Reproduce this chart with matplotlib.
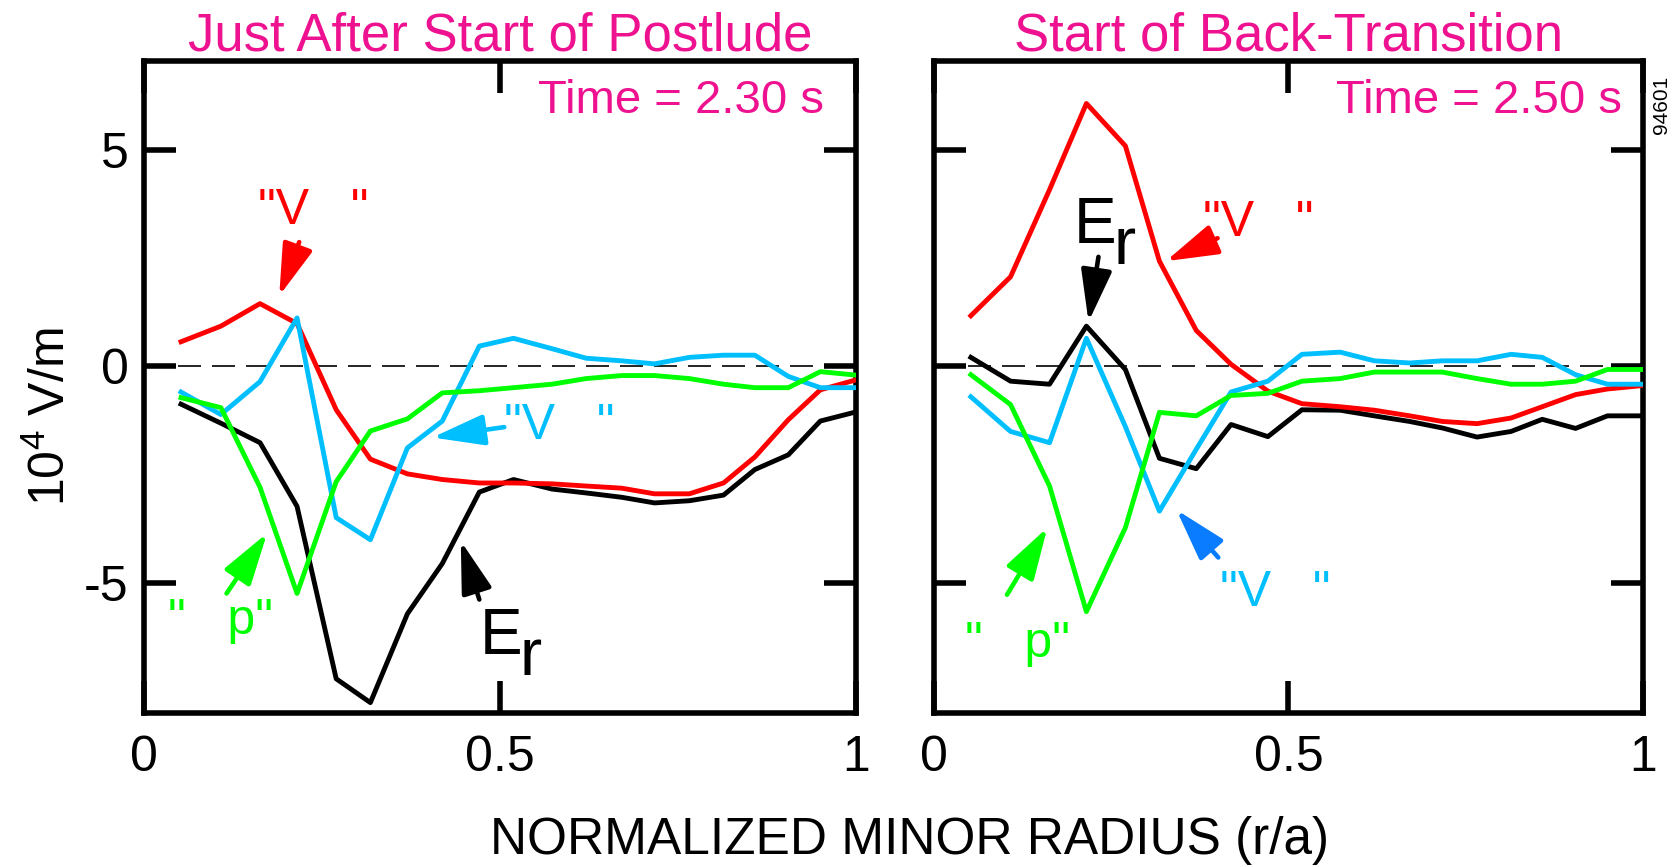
import matplotlib
matplotlib.use('Agg')
import matplotlib.pyplot as plt
import matplotlib.transforms as mtransforms

plt.rcParams['font.family'] = ['Liberation Sans', 'DejaVu Sans']
plt.rcParams['mathtext.default'] = 'regular'
plt.rcParams['axes.unicode_minus'] = False

# normalized minor radius grid (same for both times)
radius = [0.052, 0.108, 0.163, 0.215, 0.270, 0.318, 0.370, 0.419, 0.471, 0.519,
          0.573, 0.621, 0.671, 0.717, 0.766, 0.814, 0.858, 0.905, 0.950, 1.000]

# t = 2.30 s, units of 1e4 V/m
er_230 = [-0.87, -1.31, -1.76, -3.23, -7.21, -7.76, -5.71, -4.55, -2.90, -2.61,
          -2.83, -2.92, -3.02, -3.15, -3.10, -2.97, -2.38, -2.04, -1.26, -1.05]
vpol_230 = [0.57, 0.93, 1.45, 0.99, -1.00, -2.14, -2.48, -2.61, -2.69, -2.69,
            -2.71, -2.76, -2.81, -2.94, -2.94, -2.69, -2.09, -1.23, -0.54, -0.31]
vtor_230 = [-0.59, -1.11, -0.35, 1.12, -3.49, -4.00, -1.88, -1.26, 0.47, 0.65,
            0.41, 0.19, 0.13, 0.06, 0.21, 0.26, 0.26, -0.23, -0.49, -0.49]
gradp_230 = [-0.72, -0.95, -2.79, -5.24, -2.66, -1.49, -1.21, -0.61, -0.56, -0.49,
             -0.41, -0.28, -0.21, -0.21, -0.28, -0.41, -0.49, -0.49, -0.12, -0.20]

# t = 2.50 s
er_250 = [0.21, -0.34, -0.41, 0.93, -0.07, -2.12, -2.36, -1.34, -1.62, -1.00,
          -1.01, -1.14, -1.27, -1.42, -1.63, -1.50, -1.22, -1.43, -1.14, -1.14]
vpol_250 = [1.17, 2.07, 4.08, 6.07, 5.09, 2.43, 0.83, 0.05, -0.57, -0.86,
            -0.93, -1.01, -1.14, -1.27, -1.32, -1.19, -0.93, -0.65, -0.52, -0.44]
vtor_250 = [-0.70, -1.50, -1.76, 0.65, -1.39, -3.34, -1.91, -0.59, -0.34, 0.28,
            0.33, 0.13, 0.08, 0.13, 0.13, 0.28, 0.21, -0.19, -0.41, -0.41]
gradp_250 = [-0.19, -0.88, -2.76, -5.66, -3.72, -1.06, -1.14, -0.67, -0.62, -0.34,
             -0.28, -0.13, -0.13, -0.13, -0.28, -0.41, -0.41, -0.34, -0.07, -0.07]

titles = ['Just After Start of Postlude', 'Start of Back-Transition']
times = ['Time = 2.30 s', 'Time = 2.50 s']
x_ticks = [0, 0.5, 1]
x_ticklabels = ['0', '0.5', '1']
y_ticks = [-5, 0, 5]

MAGENTA = '#EE1290'
RED = '#FF0000'
CYAN = '#00BFFF'
GREEN = '#00FF00'
BLUE = '#0A7CFF'
LW = 3.5
FS = 36

fig = plt.figure(figsize=(16.78, 8.67), dpi=100)
ax1 = fig.add_axes([0.0858, 0.1776, 0.4243, 0.752])
ax2 = fig.add_axes([0.5566, 0.1776, 0.4225, 0.752])


def arrow(ax, tail, tip, color):
    ax.annotate('', xy=tip, xytext=tail,
                arrowprops=dict(arrowstyle='-|>,head_length=3.2,head_width=0.95',
                                mutation_scale=10, lw=3.3, color=color,
                                shrinkA=0, shrinkB=0))


def er_label(ax, x, y):
    ax.text(x, y, 'E', fontsize=46, ha='left', va='baseline')
    tr = mtransforms.offset_copy(ax.transData, fig=fig, x=29, y=-15, units='points')
    ax.text(x, y, 'r', fontsize=48, ha='left', va='baseline', transform=tr)


def setup(ax, title, time_txt, time_x, left_labels):
    ax.axhline(0, color='black', lw=1.2, ls=(0, (13.8, 6.6)), zorder=1)
    ax.set_xlim(0, 1)
    ax.set_ylim(-8, 7.05)
    ax.set_xticks(x_ticks)
    ax.set_xticklabels(x_ticklabels)
    ax.set_yticks(y_ticks)
    ax.tick_params(axis='both', direction='in', length=23, width=4,
                   top=True, right=True, labelsize=FS)
    ax.tick_params(axis='x', pad=16)
    ax.tick_params(axis='y', pad=11, labelleft=left_labels)
    for s in ax.spines.values():
        s.set_linewidth(4)
    ax.text(0.5, 1.016, title, transform=ax.transAxes, ha='center',
            va='baseline', fontsize=38, color=MAGENTA)
    ax.text(time_x, 5.85, time_txt, ha='right', va='baseline',
            fontsize=34, color=MAGENTA)


# left panel
ax1.plot(radius, er_230, color='black', lw=LW, zorder=3)
ax1.plot(radius, vpol_230, color=RED, lw=LW, zorder=3)
ax1.plot(radius, vtor_230, color=CYAN, lw=LW, zorder=3)
ax1.plot(radius, gradp_230, color=GREEN, lw=LW, zorder=3)
setup(ax1, titles[0], times[0], 0.955, True)

ax1.text(0.16, 3.29, '"V   "', fontsize=FS, color=RED, va='baseline')
arrow(ax1, (0.218, 2.87), (0.19, 1.63), RED)
ax1.text(0.506, -1.68, '"V   "', fontsize=FS, color=CYAN, va='baseline')
arrow(ax1, (0.506, -1.40), (0.405, -1.64), CYAN)
ax1.text(0.034, -6.17, '"   p"', fontsize=FS, color=GREEN, va='baseline')
arrow(ax1, (0.116, -5.24), (0.173, -3.85), GREEN)
er_label(ax1, 0.471, -6.64)
arrow(ax1, (0.471, -5.38), (0.445, -4.03), 'black')

# right panel
ax2.plot(radius, er_250, color='black', lw=LW, zorder=3)
ax2.plot(radius, vpol_250, color=RED, lw=LW, zorder=3)
ax2.plot(radius, vtor_250, color=CYAN, lw=LW, zorder=3)
ax2.plot(radius, gradp_250, color=GREEN, lw=LW, zorder=3)
setup(ax2, titles[1], times[1], 0.97, False)

ax2.text(0.38, 3.0, '"V   "', fontsize=FS, color=RED, va='baseline')
arrow(ax2, (0.40, 2.96), (0.327, 2.43), RED)
ax2.text(0.403, -5.53, '"V   "', fontsize=FS, color=CYAN, va='baseline')
arrow(ax2, (0.401, -4.41), (0.342, -3.31), BLUE)
ax2.text(0.044, -6.71, '"   p"', fontsize=FS, color=GREEN, va='baseline')
arrow(ax2, (0.103, -5.27), (0.16, -3.72), GREEN)
er_label(ax2, 0.197, 2.84)
arrow(ax2, (0.232, 2.53), (0.218, 1.03), 'black')

fig.text(0.0304, 0.519, '10$^4$ V/m', rotation=90, ha='center', va='center', fontsize=FS)
fig.text(0.542, 0.015, 'NORMALIZED MINOR RADIUS (r/a)', ha='center', va='baseline', fontsize=37)
fig.text(0.990, 0.879, '94601', rotation=90, ha='center', va='center', fontsize=15)

fig.savefig('out.png', dpi=100)
